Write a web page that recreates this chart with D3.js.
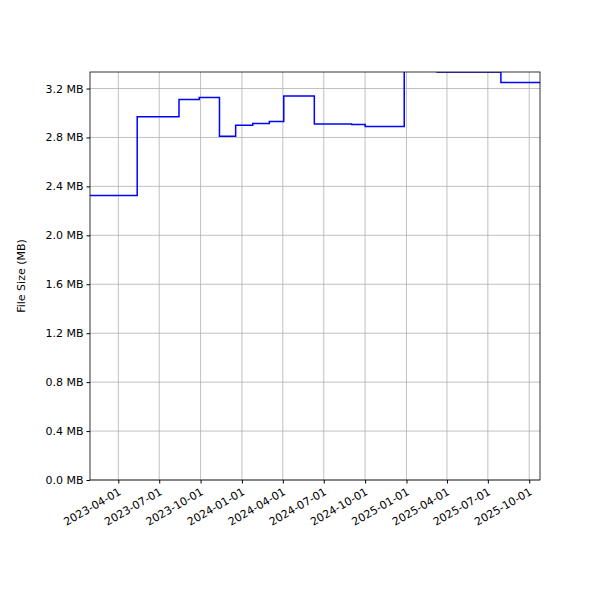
<!DOCTYPE html><html><head><script src="https://d3js.org/d3.v7.min.js"></script>
<style>body{margin:0;background:#fff}text{font-family:"DejaVu Sans",sans-serif}</style></head><body>
<svg id="c" width="600" height="600"></svg>
<script>
const dates=["2023-01-28","2023-05-13","2023-08-14","2023-09-28","2023-11-12","2023-12-18","2024-01-25","2024-03-02","2024-04-03","2024-06-10","2024-09-01","2024-10-01","2024-12-27","2025-03-10","2025-07-30","2025-10-25"];
const sizes=[2.325,2.97,3.11,3.127,2.81,2.90,2.915,2.93,3.139,2.91,2.905,2.89,3.6,3.335,3.249,3.249];
const yTicks=[0,0.4,0.8,1.2,1.6,2.0,2.4,2.8,3.2];
const xTicks=["2023-04-01","2023-07-01","2023-10-01","2024-01-01","2024-04-01","2024-07-01","2024-10-01","2025-01-01","2025-04-01","2025-07-01","2025-10-01"];
const p=d3.timeParse("%Y-%m-%d");
const L=90,R=540,T=72,B=480;
const svg=d3.select("#c");
const x=d3.scaleTime().domain([p("2023-01-28"),p("2025-10-25")]).range([L,R]);
const y=d3.scaleLinear().domain([0,3.335]).range([B,T]);
const g=svg.append("g");
xTicks.forEach(t=>g.append("line").attr("x1",x(p(t))).attr("x2",x(p(t))).attr("y1",T).attr("y2",B).attr("stroke","#b0b0b0").attr("stroke-width",0.8));
yTicks.forEach(t=>g.append("line").attr("x1",L).attr("x2",R).attr("y1",y(t)).attr("y2",y(t)).attr("stroke","#b0b0b0").attr("stroke-width",0.8));
svg.append("clipPath").attr("id","cp").append("rect").attr("x",L).attr("y",T).attr("width",R-L).attr("height",B-T);
const data=dates.map((d,i)=>({d:p(d),v:sizes[i]}));
svg.append("path").datum(data).attr("clip-path","url(#cp)").attr("fill","none").attr("stroke","blue").attr("stroke-width",1.5)
 .attr("d",d3.line().x(d=>x(d.d)).y(d=>y(d.v)).curve(d3.curveStepAfter));
const xa=svg.append("g").attr("transform",`translate(0,${B})`).call(d3.axisBottom(x).tickValues(xTicks.map(p)).tickFormat(d3.timeFormat("%Y-%m-%d")).tickSize(3.5).tickSizeOuter(0));
xa.selectAll("text").attr("font-size",11).attr("text-anchor","end").attr("y",0).attr("dy",0).attr("transform","translate(3,14) rotate(-30)");
const ya=svg.append("g").attr("transform",`translate(${L},0)`).call(d3.axisLeft(y).tickValues(yTicks).tickFormat(d=>d.toFixed(1)+" MB").tickSize(3.5).tickSizeOuter(0));
ya.selectAll("text").attr("font-size",11);
[xa,ya].forEach(a=>{a.select(".domain").remove();a.selectAll("text").attr("fill","#000");a.selectAll("line").attr("stroke","#000")});
svg.append("rect").attr("x",L).attr("y",T).attr("width",R-L).attr("height",B-T).attr("fill","none").attr("stroke","#000").attr("stroke-width",0.8);
svg.append("text").attr("transform",`translate(25,${(T+B)/2}) rotate(-90)`).attr("text-anchor","middle").attr("font-size",11).text("File Size (MB)");
</script></body></html>
